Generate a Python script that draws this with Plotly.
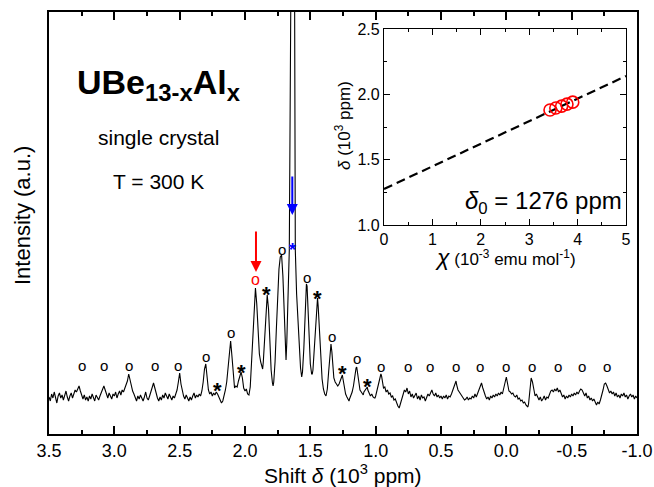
import plotly.graph_objects as go

# ---------------- data ----------------
# NMR spectrum: (shift in 10^3 ppm, intensity a.u.)
spectrum_pts = [
    (3.50,37),(3.49,33),(3.48,40),(3.47,36),(3.46,42),(3.45,35),(3.44,31),(3.43,38),(3.42,41),(3.41,36),
    (3.40,39),(3.39,34),(3.38,40),(3.37,43),(3.36,37),(3.35,33),(3.34,38),(3.33,41),(3.32,36),(3.31,40),
    (3.30,44),(3.29,42),(3.28,46),(3.27,48),(3.26,43),(3.25,38),(3.24,35),(3.23,39),(3.22,34),(3.21,37),
    (3.20,33),(3.19,38),(3.18,35),(3.17,40),(3.16,36),(3.15,33),(3.14,39),(3.13,37),(3.12,34),(3.11,38),
    (3.10,42),(3.09,45),(3.08,48),(3.07,44),(3.06,39),(3.05,36),(3.04,41),(3.03,37),(3.02,35),(3.01,40),
    (3.00,38),(2.99,42),(2.98,36),(2.97,40),(2.96,43),(2.95,39),(2.94,44),(2.93,42),(2.92,46),(2.91,48),
    (2.90,53),(2.89,60),(2.88,55),(2.87,47),(2.86,43),(2.85,40),(2.84,37),(2.83,33),(2.82,38),(2.81,35),
    (2.80,39),(2.79,36),(2.78,33),(2.77,37),(2.76,42),(2.75,36),(2.74,34),(2.73,38),(2.72,43),(2.71,47),
    (2.70,51),(2.69,46),(2.68,40),(2.67,36),(2.66,33),(2.65,37),(2.64,34),(2.63,39),(2.62,36),(2.61,41),
    (2.60,38),(2.59,35),(2.58,40),(2.57,37),(2.56,34),(2.55,38),(2.54,36),(2.53,40),(2.52,44),(2.51,52),
    (2.50,61),(2.49,50),(2.48,42),(2.47,38),(2.46,35),(2.45,39),(2.44,36),(2.43,33),(2.42,37),(2.41,34),
    (2.40,38),(2.39,41),(2.38,36),(2.37,39),(2.36,37),(2.35,40),(2.34,38),(2.33,43),(2.32,52),(2.31,65),
    (2.30,70),(2.29,55),(2.28,44),(2.27,40),(2.26,42),(2.25,38),(2.24,41),(2.23,39),(2.22,42),(2.21,40),
    (2.20,37),(2.19,34),(2.18,31),(2.17,33),(2.16,38),(2.15,44),(2.14,52),(2.13,64),(2.12,80),(2.11,93),
    (2.10,78),(2.09,58),(2.08,46),(2.07,48),(2.06,47),(2.05,53),(2.04,58),(2.03,62),(2.02,56),(2.01,46),
    (2.00,43),(1.99,45),(1.98,40),(1.97,39),(1.96,47),(1.95,70),(1.94,100),(1.93,128),(1.92,146),(1.91,130),
    (1.90,100),(1.89,80),(1.88,72),(1.87,67),(1.865,65),(1.86,72),(1.85,95),(1.84,125),(1.83,139),(1.82,125),
    (1.81,90),(1.80,64),(1.79,51),(1.785,48),(1.78,52),(1.77,72),(1.76,105),(1.75,140),(1.74,165),(1.73,177),
    (1.72,179),(1.71,158),(1.70,112),(1.69,80),(1.686,74),(1.68,92),(1.675,112),(1.668,140),(1.661,184),(1.650,422),
    (1.635,900),(1.620,422),(1.615,184),(1.605,140),(1.595,110),(1.585,85),(1.575,66),(1.566,57),(1.56,62),(1.55,85),
    (1.54,125),(1.53,150),(1.525,148),(1.52,130),(1.51,95),(1.50,70),(1.49,60),(1.485,60),(1.48,64),(1.47,85),
    (1.46,115),(1.45,134),(1.445,136),(1.44,128),(1.43,100),(1.42,72),(1.41,55),(1.40,45),(1.39,40),(1.38,38),
    (1.37,45),(1.36,62),(1.35,82),(1.342,90),(1.335,82),(1.33,68),(1.32,56),(1.31,52),(1.30,50),(1.29,48),
    (1.28,50),(1.27,54),(1.26,58),(1.255,59),(1.25,55),(1.24,46),(1.23,40),(1.22,37),(1.21,34),(1.204,33),
    (1.20,35),(1.19,38),(1.18,42),(1.17,48),(1.16,58),(1.15,66),(1.145,67),(1.14,62),(1.13,50),(1.12,44),
    (1.11,42),(1.10,40),(1.095,39),(1.09,42),(1.08,44),(1.07,46),(1.064,47),(1.06,44),(1.05,41),(1.04,38),
    (1.03,40),(1.02,37),(1.01,36),(1.005,36),(1.00,38),(0.99,43),(0.98,50),(0.97,56),(0.96,60),(0.955,58),
    (0.95,52),(0.94,46),(0.93,47),(0.92,42),(0.91,44),(0.90,40),(0.89,41),(0.88,37),(0.87,38),(0.86,34),
    (0.85,35),(0.84,31),(0.83,28),(0.82,26),(0.81,30),(0.80,36),(0.79,40),(0.78,44),(0.77,42),(0.76,46),
    (0.75,40),(0.74,43),(0.73,37),(0.72,40),(0.71,36),(0.70,38),(0.69,41),(0.68,35),(0.67,38),(0.66,34),
    (0.65,39),(0.64,36),(0.63,37),(0.62,33),(0.61,36),(0.60,40),(0.59,38),(0.58,42),(0.57,44),(0.56,40),
    (0.55,38),(0.54,41),(0.53,37),(0.52,39),(0.51,36),(0.50,38),(0.49,35),(0.48,38),(0.47,36),(0.46,39),
    (0.45,35),(0.44,38),(0.43,37),(0.42,40),(0.41,44),(0.40,49),(0.39,53),(0.385,53),(0.38,49),(0.37,44),
    (0.36,42),(0.35,40),(0.34,38),(0.33,36),(0.32,34),(0.31,35),(0.30,37),(0.29,34),(0.28,36),(0.27,35),
    (0.26,38),(0.25,36),(0.24,40),(0.23,37),(0.22,41),(0.21,44),(0.20,48),(0.19,51),(0.18,46),(0.17,41),
    (0.16,38),(0.15,35),(0.14,37),(0.13,34),(0.12,38),(0.11,36),(0.10,39),(0.09,37),(0.08,40),(0.07,38),
    (0.06,41),(0.05,39),(0.04,42),(0.03,40),(0.02,45),(0.01,52),(0.00,57),(-0.01,50),(-0.02,43),(-0.03,42),
    (-0.04,40),(-0.05,41),(-0.06,38),(-0.07,37),(-0.08,39),(-0.09,35),(-0.10,36),(-0.11,33),(-0.12,34),(-0.13,31),
    (-0.14,32),(-0.15,29),(-0.16,28),(-0.165,27),(-0.17,30),(-0.18,45),(-0.19,56),(-0.20,52),(-0.21,44),(-0.22,38),
    (-0.23,40),(-0.24,36),(-0.25,34),(-0.26,37),(-0.27,33),(-0.28,35),(-0.29,38),(-0.30,34),(-0.31,37),(-0.32,36),
    (-0.33,40),(-0.34,43),(-0.35,44),(-0.36,42),(-0.37,45),(-0.38,43),(-0.39,46),(-0.40,42),(-0.41,44),(-0.42,40),
    (-0.43,37),(-0.44,39),(-0.45,35),(-0.46,38),(-0.47,36),(-0.48,39),(-0.49,37),(-0.50,40),(-0.51,38),(-0.52,41),
    (-0.53,39),(-0.54,42),(-0.55,40),(-0.56,43),(-0.57,45),(-0.58,44),(-0.59,40),(-0.60,38),(-0.61,41),(-0.62,36),
    (-0.63,38),(-0.64,34),(-0.65,36),(-0.66,33),(-0.67,35),(-0.68,31),(-0.69,29),(-0.70,32),(-0.71,30),(-0.72,34),
    (-0.73,38),(-0.74,44),(-0.75,50),(-0.76,51),(-0.77,48),(-0.78,44),(-0.79,41),(-0.80,43),(-0.81,40),(-0.82,42),
    (-0.83,38),(-0.84,41),(-0.85,37),(-0.86,39),(-0.87,36),(-0.88,40),(-0.89,38),(-0.90,41),(-0.91,37),(-0.92,39),
    (-0.93,35),(-0.94,38),(-0.95,40),(-0.96,37),(-0.97,39),(-0.98,35),(-0.99,38),(-1.00,36),
]
shift = [p[0] for p in spectrum_pts]
intensity = [p[1] for p in spectrum_pts]

# peak labels "o" (black)
o_x = [3.25, 3.079, 2.886, 2.689, 2.51, 2.298, 2.11, 1.719, 1.528, 1.337, 1.145,
       0.959, 0.755, 0.584, 0.385, 0.202, 0.003, -0.194, -0.398, -0.577, -0.773]
o_y = [69, 69, 69, 69, 69, 78, 102, 185, 157, 98, 76,
       68, 68, 68, 68, 68, 68, 68, 68, 68, 68]
# peak labels "*" (black)
star_x = [2.209, 2.023, 1.834, 1.444, 1.255, 1.064]
star_y = [49, 67, 145, 141, 66, 53]
# highlighted labels
red_o_x, red_o_y = 1.916, 155
blue_star_x, blue_star_y = 1.638, 188
# arrows (tip, tail)
red_arrow = dict(x=1.916, tip=162, tail=204)
blue_arrow = dict(x=1.638, tip=219, tail=259)

main_ticks = [3.5, 3.0, 2.5, 2.0, 1.5, 1.0, 0.5, 0.0, -0.5, -1.0]
main_ticktext = ["3.5", "3.0", "2.5", "2.0", "1.5", "1.0", "0.5", "0.0", "-0.5", "-1.0"]
main_minor = [3.25, 2.75, 2.25, 1.75, 1.25, 0.75, 0.25, -0.25, -0.75]

# inset: shift vs susceptibility
chi = [3.43, 3.55, 3.67, 3.78, 3.90]
delta = [1.880, 1.895, 1.910, 1.925, 1.940]
fit_x = [0, 5]
fit_y = [1.276, 2.14]

# ---------------- layout geometry ----------------
W, H = 654, 487
L, R, T, B = 49, 17, 12, 53
PW, PH = W - L - R, H - T - B


def px(xp):
    return (xp - L) / PW


def py(yp):
    return (H - B - yp) / PH


FONT = "Liberation Sans, Arial, sans-serif"

fig = go.Figure()
fig.add_trace(go.Scatter(x=shift, y=intensity, mode="lines",
                         line=dict(color="black", width=1.1),
                         xaxis="x", yaxis="y", hoverinfo="skip"))
fig.add_trace(go.Scatter(x=fit_x, y=fit_y, mode="lines",
                         line=dict(color="black", width=2.2, dash="9px,5px"),
                         xaxis="x2", yaxis="y2"))
fig.add_trace(go.Scatter(x=chi, y=delta, mode="markers",
                         marker=dict(symbol="circle-open", size=12, color="#ff0000",
                                     line=dict(width=1.6, color="#ff0000")),
                         xaxis="x2", yaxis="y2"))

C = dict(xanchor="center", yanchor="middle", showarrow=False)
ann = []
for x, y in zip(o_x, o_y):
    ann.append(dict(x=x, y=y, xref="x", yref="y", text="o",
                    font=dict(size=15, color="black", family=FONT), **C))
for x, y in zip(star_x, star_y):
    ann.append(dict(x=x, y=y, xref="x", yref="y", text="<b>*</b>",
                    yshift=-5, font=dict(size=22, color="black", family=FONT), **C))
ann.append(dict(x=red_o_x, y=red_o_y, xref="x", yref="y", text="o",
                font=dict(size=16, color="#ff0000", family=FONT), **C))
ann.append(dict(x=blue_star_x, y=blue_star_y, xref="x", yref="y", text="<b>*</b>",
                yshift=-4, font=dict(size=18, color="#0000ff", family=FONT), **C))
for a, col in ((red_arrow, "#ff0000"), (blue_arrow, "#0000ff")):
    ann.append(dict(x=a["x"], y=a["tip"], ax=a["x"], ay=a["tail"], xref="x", yref="y",
                    axref="x", ayref="y", text="", showarrow=True, arrowhead=2,
                    arrowsize=1.1, arrowwidth=2, arrowcolor=col, standoff=0, startstandoff=0))

# texts
ann += [
    dict(x=px(159), y=py(84), xref="paper", yref="paper",
         text="<b>UBe<sub>13-x</sub>Al<sub>x</sub></b>", font=dict(size=34, family=FONT), **C),
    dict(x=px(158), y=py(137), xref="paper", yref="paper",
         text="single crystal", font=dict(size=21, family=FONT), **C),
    dict(x=px(158), y=py(181), xref="paper", yref="paper",
         text="T = 300 K", font=dict(size=21, family=FONT), **C),
    dict(x=px(22), y=py(216), xref="paper", yref="paper", textangle=-90,
         text="Intensity (a.u.)", font=dict(size=22, family=FONT), **C),
    dict(x=px(343), y=py(474), xref="paper", yref="paper",
         text="Shift <i>δ</i> (10<sup>3</sup> ppm)", font=dict(size=21, family=FONT), **C),
    dict(x=px(543), y=py(202), xref="paper", yref="paper",
         text="<i>δ</i><sub>0</sub> = 1276 ppm", font=dict(size=24, family=FONT), **C),
    dict(x=px(505), y=py(257), xref="paper", yref="paper",
         text="<i><span style='font-size:23px'>χ</span></i> (10<sup>-3</sup> emu mol<sup>-1</sup>)",
         font=dict(size=17, family=FONT), **C),
    dict(x=px(343), y=py(126), xref="paper", yref="paper", textangle=-90,
         text="<i>δ</i> (10<sup>3</sup> ppm)", font=dict(size=17, family=FONT), **C),
]

axis_common = dict(showline=True, linecolor="black", showgrid=False, zeroline=False,
                   mirror="allticks", ticks="inside", tickcolor="black", automargin=False)

fig.update_layout(
    template="none",
    width=W, height=H, margin=dict(l=L, r=R, t=T, b=B, autoexpand=False),
    paper_bgcolor="white", plot_bgcolor="white", showlegend=False,
    font=dict(family=FONT, color="black"),
    annotations=ann,
    xaxis=dict(domain=[0, 1], anchor="y", range=[3.5, -1.0], tickvals=main_ticks,
               ticktext=main_ticktext, ticklen=8, tickwidth=1.5, linewidth=1.6,
               tickfont=dict(size=18),
               minor=dict(tickvals=main_minor, ticks="inside", ticklen=4, tickwidth=1.5,
                          tickcolor="black", showgrid=False),
               **axis_common),
    yaxis=dict(domain=[0, 1], anchor="x", range=[0, 422], showline=True, linecolor="black",
               linewidth=1.6, mirror=True, ticks="", showticklabels=False, showgrid=False,
               zeroline=False, automargin=False),
    xaxis2=dict(domain=[px(384), px(626)], anchor="y2", range=[0, 5], dtick=1,
                ticklen=6, tickwidth=1.3, linewidth=1.3, tickfont=dict(size=16),
                minor=dict(dtick=0.5, ticks="inside", ticklen=3, tickwidth=1.3,
                           tickcolor="black", showgrid=False),
                **axis_common),
    yaxis2=dict(domain=[py(225), py(29)], anchor="x2", range=[1.0, 2.5], dtick=0.5,
                tickformat=".1f", ticklen=6, tickwidth=1.3, linewidth=1.3,
                tickfont=dict(size=16),
                minor=dict(dtick=0.25, ticks="inside", ticklen=3, tickwidth=1.3,
                           tickcolor="black", showgrid=False),
                **axis_common),
)

fig.write_html("out.html")
